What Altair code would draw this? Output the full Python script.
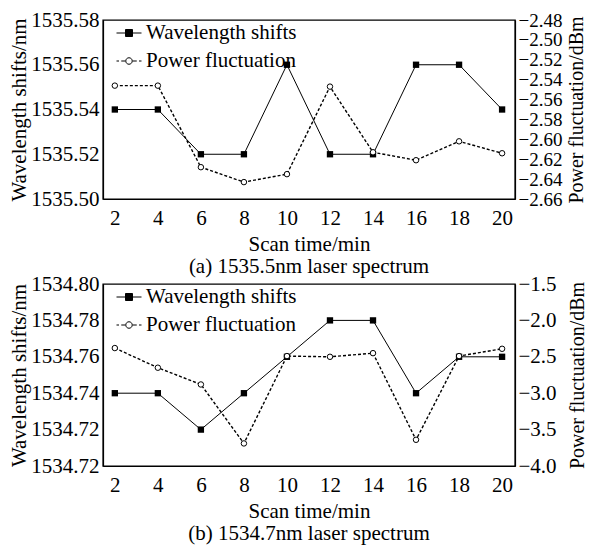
import altair as alt
import pandas as pd

# ---------------- data ----------------
scan_time = [2, 4, 6, 8, 10, 12, 14, 16, 18, 20]

wl_a = [1535.54, 1535.54, 1535.52, 1535.52, 1535.56, 1535.52, 1535.52, 1535.56, 1535.56, 1535.54]
pw_a = [-2.546, -2.546, -2.628, -2.643, -2.635, -2.547, -2.613, -2.621, -2.602, -2.614]

wl_b = [1534.74, 1534.74, 1534.72, 1534.74, 1534.76, 1534.78, 1534.78, 1534.74, 1534.76, 1534.76]
pw_b = [-2.38, -2.65, -2.88, -3.69, -2.49, -2.50, -2.45, -3.64, -2.49, -2.39]

x_ticks = [2, 4, 6, 8, 10, 12, 14, 16, 18, 20]
wl_ticks_a = [1535.50, 1535.52, 1535.54, 1535.56, 1535.58]
pw_ticks_a = [-2.66, -2.64, -2.62, -2.60, -2.58, -2.56, -2.54, -2.52, -2.50, -2.48]
wl_ticks_b = [1534.70, 1534.72, 1534.74, 1534.76, 1534.78, 1534.80]
wl_tick_labels_b = ["1534.72", "1534.72", "1534.74", "1534.76", "1534.78", "1534.80"]
pw_ticks_b = [-4.0, -3.5, -3.0, -2.5, -2.0, -1.5]

series_names = ["Wavelength shifts", "Power fluctuation"]
x_title = "Scan time/min"
wl_title = "Wavelength shifts/nm"
pw_title = "Power fluctuation/dBm"
captions = ["(a) 1535.5nm laser spectrum", "(b) 1534.7nm laser spectrum"]

FONT = "Liberation Serif"

# legend symbols: line + marker (unit coordinates)
path_wl = "M-1,0H1M-0.28,-0.28H0.28V0.28H-0.28Z"
path_pw = ("M-1,0H-0.8M-0.62,0H-0.3M0.3,0H0.62M0.8,0H1"
           "M-0.26,0A0.26,0.26 0 1,0 0.26,0A0.26,0.26 0 1,0 -0.26,0Z")

legend = alt.Legend(
    title=None, orient="none", legendX=10, legendY=-3, padding=3,
    symbolSize=625, symbolStrokeWidth=1, symbolOpacity=1,
    labelFont=FONT, labelFontSize=21, labelColor="black", labelOffset=4,
    rowPadding=5, labelLimit=400,
)

shape_scale = alt.Scale(domain=series_names, range=[path_wl, path_pw])
fill_scale = alt.Scale(domain=series_names, range=["black", "white"])
stroke_scale = alt.Scale(domain=series_names, range=["black", "black"])


def panel(wl, pw, wl_ticks, wl_domain, wl_label_expr, pw_ticks, pw_domain, pw_fmt,
          pw_label_size, pw_title_pad, caption, height):
    df = pd.DataFrame({"t": scan_time, "wl": wl, "pw": pw})
    base = alt.Chart(df)
    x = alt.X("t:Q", scale=alt.Scale(domain=[1.45, 20.6], nice=False, zero=False),
              axis=alt.Axis(values=x_ticks, format="d", title=x_title, ticks=False,
                            labelPadding=8, titlePadding=5, labelFlush=False))
    y_wl = alt.Y("wl:Q", scale=alt.Scale(domain=wl_domain, nice=False, zero=False),
                 axis=alt.Axis(orient="left", values=wl_ticks, labelExpr=wl_label_expr,
                               title=wl_title, ticks=False, labelPadding=4, titlePadding=1,
                               labelOverlap=False, labelFlush=False))
    y_pw = alt.Y("pw:Q", scale=alt.Scale(domain=pw_domain, nice=False, zero=False),
                 axis=alt.Axis(orient="right", values=pw_ticks, format=pw_fmt,
                               labelFontSize=pw_label_size,
                               title=pw_title, titleFontSize=20, ticks=False,
                               labelPadding=3, titlePadding=pw_title_pad,
                               titleAngle=270, titleBaseline="top",
                               labelOverlap=False, labelFlush=False))

    wl_line = base.mark_line(color="black", strokeWidth=1).encode(x=x, y=y_wl)
    wl_pts = base.mark_square(size=40, color="black", opacity=1).encode(x=x, y=y_wl)
    pw_line = base.mark_line(color="black", strokeWidth=1.4, strokeDash=[3, 2]).encode(x=x, y=y_pw)
    pw_pts = base.mark_circle(size=30, fill="white", stroke="black", strokeWidth=1,
                              opacity=1).encode(x=x, y=y_pw)

    leg = alt.Chart(pd.DataFrame({"series": series_names})).transform_filter(
        "false"
    ).mark_point(
        filled=False, opacity=1, size=625, strokeWidth=1
    ).encode(
        shape=alt.Shape("series:N", scale=shape_scale, legend=legend),
        fill=alt.Fill("series:N", scale=fill_scale, legend=legend),
        stroke=alt.Stroke("series:N", scale=stroke_scale, legend=legend),
    )
    return alt.layer(
        alt.layer(wl_line, wl_pts),
        alt.layer(pw_line, pw_pts),
        leg,
    ).resolve_scale(y="independent").properties(
        width=412, height=height,
        title=alt.Title(caption, orient="bottom", anchor="middle", offset=2,
                        font=FONT, fontSize=21, fontWeight="normal", color="black"),
    )


label_expr_a = "format(datum.value, '.2f')"
label_expr_b = ("[" + ",".join("'" + s + "'" for s in wl_tick_labels_b) +
                "][round((datum.value - " + str(wl_ticks_b[0]) + ") / 0.02)]")

top = panel(wl_a, pw_a, wl_ticks_a, [wl_ticks_a[0], wl_ticks_a[-1]], label_expr_a,
            pw_ticks_a, [pw_ticks_a[0], pw_ticks_a[-1]], ".2f", 19, 5, captions[0], 179)
bottom = panel(wl_b, pw_b, wl_ticks_b, [wl_ticks_b[0], wl_ticks_b[-1]], label_expr_b,
               pw_ticks_b, [pw_ticks_b[0], pw_ticks_b[-1]], ".1f", 21, 11, captions[1], 182)

chart = alt.vconcat(top, bottom, spacing=85, bounds="flush").resolve_scale(
    y="independent", shape="independent", fill="independent", stroke="independent"
).resolve_legend(shape="independent", fill="independent", stroke="independent").properties(
    padding={"left": 0, "top": 0, "right": 0, "bottom": 0}
).configure(background="white").configure_axis(
    labelFont=FONT, labelFontSize=21, labelColor="black",
    titleFont=FONT, titleFontSize=21, titleFontWeight="normal", titleColor="black",
    domainColor="black", domainWidth=1.2, grid=False,
).configure_view(stroke="black", strokeWidth=1.4)

chart.save("out.html", embed_options={"renderer": "svg", "actions": False})
